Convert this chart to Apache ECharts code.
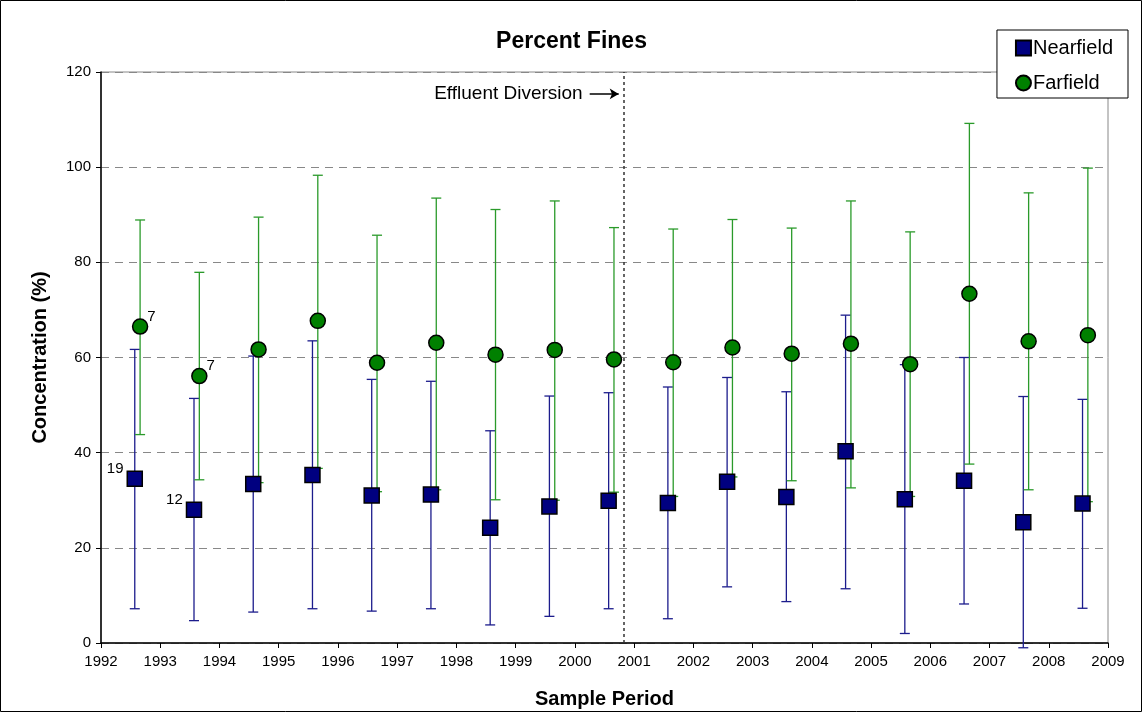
<!DOCTYPE html>
<html>
<head>
<meta charset="utf-8">
<script src="https://cdn.jsdelivr.net/npm/echarts@6/dist/echarts.min.js"></script>
<style>
  html, body { margin: 0; padding: 0; background: #fff; }
  #main { width: 1143px; height: 713px; }
</style>
</head>
<body>
<div id="main"></div>
<script>
// sample years and the sampling offset within each year
var years = [1992, 1993, 1994, 1995, 1996, 1997, 1998, 1999, 2000,
             2001, 2002, 2003, 2004, 2005, 2006, 2007, 2008];
var nearOffset = 0.57;
var farOffset = 0.66;

// Nearfield: mean, lower and upper bar ends
var nearMean = [34.5, 28.0, 33.4, 35.3, 31.0, 31.2, 24.2, 28.7, 29.9,
                29.4, 33.9, 30.7, 40.3, 30.2, 34.1, 25.4, 29.3];
var nearLow  = [7.2, 4.7, 6.5, 7.2, 6.7, 7.2, 3.8, 5.6, 7.2,
                5.1, 11.8, 8.7, 11.4, 2.0, 8.2, -1.0, 7.3];
var nearHigh = [61.7, 51.4, 60.3, 63.5, 55.4, 55.0, 44.6, 51.9, 52.6,
                53.8, 55.8, 52.8, 68.9, 58.5, 60.0, 51.8, 51.2];

// Farfield
var farMean = [66.5, 56.1, 61.7, 67.7, 58.9, 63.1, 60.6, 61.6, 59.6,
               59.0, 62.1, 60.8, 62.9, 58.6, 73.4, 63.4, 64.7];
var farLow  = [43.8, 34.3, 33.7, 36.7, 31.8, 32.2, 30.1, 30.0, 31.7,
               30.8, 34.9, 34.1, 32.6, 30.8, 37.6, 32.2, 29.7];
var farHigh = [88.9, 77.9, 89.5, 98.3, 85.7, 93.5, 91.1, 92.9, 87.3,
               87.0, 89.0, 87.2, 92.9, 86.4, 109.2, 94.6, 99.8];

// sample counts shown next to the first two points
var nearCounts = ['19', '12'];
var farCounts = ['7', '7'];

var diversionDate = 2000.83;

var FONT = 'Arial, "Liberation Sans", sans-serif';
var NEAR = '#000080';
var NEAR_BAR = '#1c1c8c';
var FAR = '#008000';
var FAR_BAR = '#2a9a2a';

var chart = echarts.init(document.getElementById('main'));

function errorBar(color) {
  return function (params, api) {
    var x = api.value(0);
    var top = api.coord([x, api.value(2)]);
    var bot = api.coord([x, api.value(1)]);
    var w = 5;
    var style = { stroke: color, lineWidth: 1.3 };
    return {
      type: 'group',
      children: [
        { type: 'line', shape: { x1: top[0], y1: top[1], x2: bot[0], y2: bot[1] }, style: style },
        { type: 'line', shape: { x1: top[0] - w, y1: top[1], x2: top[0] + w, y2: top[1] }, style: style },
        { type: 'line', shape: { x1: bot[0] - w, y1: bot[1], x2: bot[0] + w, y2: bot[1] }, style: style }
      ]
    };
  };
}

var nearBars = years.map(function (y, i) { return [y + nearOffset, nearLow[i], nearHigh[i]]; });
var farBars = years.map(function (y, i) { return [y + farOffset, farLow[i], farHigh[i]]; });

var nearPts = years.map(function (y, i) {
  var item = { value: [y + nearOffset, nearMean[i]] };
  if (i < nearCounts.length) {
    item.label = {
      show: true, formatter: nearCounts[i], position: 'left',
      offset: [2, -10], color: '#000', fontSize: 15, fontFamily: FONT
    };
  }
  return item;
});
var farPts = years.map(function (y, i) {
  var item = { value: [y + farOffset, farMean[i]] };
  if (i < farCounts.length) {
    item.label = {
      show: true, formatter: farCounts[i], position: 'right',
      offset: [-6, -10], color: '#000', fontSize: 15, fontFamily: FONT
    };
  }
  return item;
});

var option = {
  backgroundColor: '#fff',
  animation: false,
  textStyle: { fontFamily: FONT },
  title: {
    text: 'Percent Fines',
    left: 'center',
    top: 25,
    textStyle: { fontSize: 23, fontWeight: 'bold', color: '#000', fontFamily: FONT }
  },
  legend: {
    data: ['Nearfield', 'Farfield'],
    orient: 'vertical',
    right: 15,
    top: 30,
    padding: [8, 15, 5, 18],
    itemGap: 15,
    itemWidth: 15,
    itemHeight: 15,
    borderColor: '#000',
    borderWidth: 1,
    backgroundColor: '#fff',
    textStyle: { fontSize: 20, color: '#000', fontFamily: FONT, padding: [0, 0, 0, -3] }
  },
  grid: {
    left: 101,
    right: 35,
    top: 72,
    bottom: 70,
    outerBoundsMode: 'none',
    show: true,
    borderColor: '#888',
    borderWidth: 1
  },
  xAxis: {
    type: 'value',
    min: 1992,
    max: 2009,
    interval: 1,
    name: 'Sample Period',
    nameLocation: 'middle',
    nameGap: 46,
    nameTextStyle: { fontSize: 20, fontWeight: 'bold', color: '#000', fontFamily: FONT },
    axisLine: { lineStyle: { color: '#000', width: 1.5 } },
    axisTick: { inside: false, length: 5, lineStyle: { color: '#000' } },
    axisLabel: {
      fontSize: 15, color: '#000', margin: 11,
      formatter: function (v) { return String(v); }
    },
    splitLine: { show: false }
  },
  yAxis: {
    type: 'value',
    min: 0,
    max: 120,
    interval: 20,
    name: 'Concentration (%)',
    nameLocation: 'middle',
    nameGap: 51,
    nameTextStyle: { fontSize: 20, fontWeight: 'bold', color: '#000', fontFamily: FONT },
    axisLine: { show: true, lineStyle: { color: '#000', width: 1.5 } },
    axisTick: { show: true, inside: false, length: 5, lineStyle: { color: '#000' } },
    axisLabel: { fontSize: 15, color: '#000', margin: 10 },
    splitLine: { show: true, lineStyle: { color: '#888', type: [8, 6], width: 1 } }
  },
  graphic: [
    {
      type: 'rect',
      shape: { x: 0.5, y: 0.5, width: 1141, height: 711 },
      style: { fill: 'none', stroke: '#000', lineWidth: 1 },
      silent: true,
      z: 100
    }
  ],
  series: [
    {
      name: 'Nearfield bars',
      type: 'custom',
      renderItem: errorBar(NEAR_BAR),
      data: nearBars,
      encode: { x: 0, y: [1, 2] },
      z: 2,
      silent: true
    },
    {
      name: 'Farfield bars',
      type: 'custom',
      renderItem: errorBar(FAR_BAR),
      data: farBars,
      encode: { x: 0, y: [1, 2] },
      z: 2,
      silent: true
    },
    {
      name: 'Nearfield',
      type: 'scatter',
      symbol: 'rect',
      symbolSize: 15,
      itemStyle: { color: NEAR, borderColor: '#000', borderWidth: 1.5, opacity: 1 },
      data: nearPts,
      z: 5,
      markLine: {
        silent: true,
        symbol: 'none',
        animation: false,
        data: [
          {
            xAxis: diversionDate,
            lineStyle: { color: '#333', type: [3, 3], width: 1.5 },
            label: { show: false }
          },
          [
            {
              coord: [2000.25, 115.4],
              symbol: 'none',
              lineStyle: { color: '#000', type: 'solid', width: 1.5 },
              label: {
                show: true, position: 'start', formatter: 'Effluent Diversion',
                color: '#000', fontSize: 19, fontFamily: FONT, distance: 7
              }
            },
            { coord: [2000.74, 115.4], symbol: 'arrow', symbolSize: [8, 9] }
          ]
        ]
      }
    },
    {
      name: 'Farfield',
      type: 'scatter',
      symbol: 'circle',
      symbolSize: 15,
      itemStyle: { color: FAR, borderColor: '#000', borderWidth: 1.5, opacity: 1 },
      data: farPts,
      z: 5
    }
  ]
};

chart.setOption(option);
</script>
</body>
</html>
